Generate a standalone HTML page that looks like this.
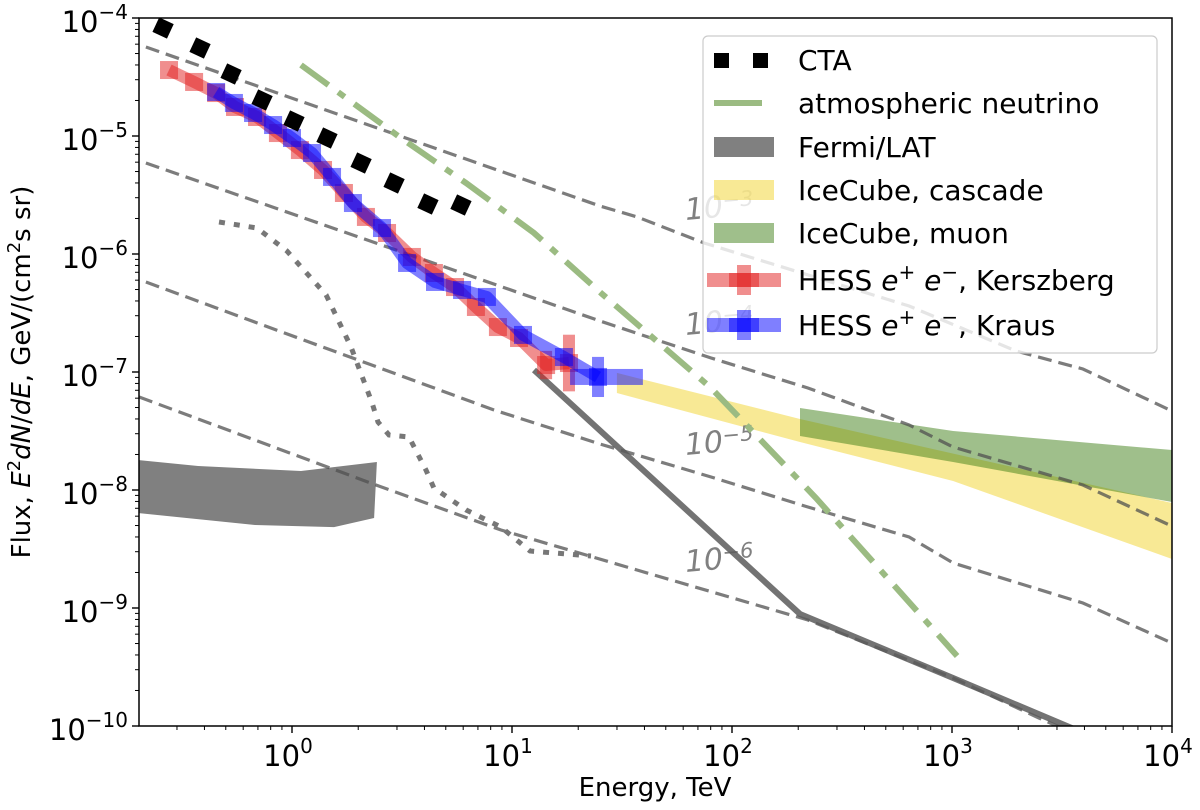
<!DOCTYPE html>
<html><head><meta charset="utf-8"><style>
html,body{margin:0;padding:0;background:#fff;}
svg{display:block;font-family:"DejaVu Sans","Liberation Sans",sans-serif;}
</style></head><body>
<svg id="chart" width="1200" height="810" viewBox="0 0 1200 810">
<defs><clipPath id="plotclip"><rect x="139" y="18" width="1033" height="708"/></clipPath></defs>
<g id="plot" clip-path="url(#plotclip)"></g>
<g id="axes"></g>
<g id="legend"></g>
</svg>
<script>
// ---- data (log10 Energy [TeV], log10 Flux) ----
const ctaLogE = [-0.586,-0.418,-0.277,-0.136,0.009,0.159,0.314,0.464,0.618,0.768];
const ctaLogF = [-4.085,-4.254,-4.475,-4.695,-4.873,-5.017,-5.229,-5.398,-5.576,-5.585];
const nuLogE = [0.041,0.495,0.791,1.1,1.405,1.905,2.382,3.023];
const nuLogF = [-4.398,-5.017,-5.398,-5.822,-6.331,-7.136,-8.068,-9.407];
const fermiLineLogE = [1.1,2.309,3.005,3.673];
const fermiLineLogF = [-6.983,-9.051,-9.593,-10.119];
const fermiBandUpLogE = [-0.699,-0.427,0.041,0.386];
const fermiBandUpLogF = [-7.746,-7.797,-7.839,-7.763];
const fermiBandLoLogE = [-0.699,-0.168,0.191,0.373];
const fermiBandLoLogF = [-8.195,-8.297,-8.314,-8.237];
const cascUpLogE = [1.477,2.309,4.0];
const cascUpLogF = [-7.008,-7.398,-8.110];
const cascLoLogE = [1.477,2.309,3.005,4.0];
const cascLoLogF = [-7.178,-7.593,-7.924,-8.585];
const muonUpLogE = [2.309,3.005,4.0];
const muonUpLogF = [-7.305,-7.5,-7.661];
const muonLoLogE = [2.309,3.005,4.0];
const muonLoLogF = [-7.542,-7.763,-8.102];
const c1LogE = [-0.664,1.4,1.568,1.873,2.805,3.291,3.595,4.009];
const c1LogF = [-4.246,-5.593,-5.686,-5.907,-6.441,-6.822,-6.975,-7.339];
const c2LogE = [-0.664,1.4,1.905,2.345,2.805,3.005,3.595,4.009];
const c2LogF = [-5.229,-6.568,-6.881,-7.136,-7.449,-7.636,-7.958,-8.314];
const c3LogE = [-0.664,0.918,1.4,1.905,2.345,2.805,3.005,3.595,4.009];
const c3LogF = [-6.237,-7.322,-7.610,-7.890,-8.144,-8.398,-8.619,-8.958,-9.305];
const c4LogE = [-0.695,0.382,0.95,1.568,2.345,3.005,3.395,3.673];
const c4LogF = [-7.212,-7.958,-8.339,-8.678,-9.102,-9.593,-9.932,-10.161];
const dotLogE = [-0.332,-0.159,-0.023,0.155,0.268,0.364,0.391,0.441,0.532,0.609,0.645,0.791,0.95,1.082,1.359];
const dotLogF = [-5.729,-5.780,-5.975,-6.347,-6.788,-7.263,-7.424,-7.534,-7.551,-7.831,-7.983,-8.169,-8.314,-8.517,-8.559];
const kerLogE = [-0.559,-0.445,-0.345,-0.259,-0.159,-0.064,0.036,0.141,0.236,0.336,0.432,0.545,0.645,0.741,0.836,0.936,1.032,1.155,1.259];
const kerLogF = [-4.441,-4.542,-4.636,-4.754,-4.839,-4.975,-5.119,-5.288,-5.483,-5.686,-5.822,-6.025,-6.161,-6.280,-6.449,-6.619,-6.712,-6.941,-6.924];
const kerErrF = [0,0,0,0,0,0,0,0,0,0,0,0,0,0,0,0,0,0.12,0.24];
const krLogE = [-0.345,-0.264,-0.177,-0.086,0,0.091,0.182,0.277,0.409,0.523,0.65,0.773,0.886,1.05,1.236,1.391];
const krLogF = [-4.627,-4.720,-4.805,-4.907,-5.017,-5.144,-5.347,-5.568,-5.780,-6.076,-6.237,-6.305,-6.364,-6.686,-6.873,-7.042];
const krErrF = [0,0,0,0,0,0,0,0,0,0,0,0,0,0,0,0.17];
const contourLabels = ["3","4","5","6"];
const contourLabelLogE = [1.79,1.79,1.79,1.79];
const contourLabelLogF = [-5.712,-6.686,-7.703,-8.695];
const xTickExp = [0,1,2,3,4];
const yTickExp = [-4,-5,-6,-7,-8,-9,-10];

const NS="http://www.w3.org/2000/svg";
const X = le => 292 + 220*le;
const Y = lf => 18 + 118*(-4 - lf);
function mk(tag, attrs, parent){const e=document.createElementNS(NS,tag);for(const k in attrs)e.setAttribute(k,attrs[k]);parent.appendChild(e);return e;}
function pts(le,lf){return le.map((v,i)=>X(v).toFixed(1)+","+Y(lf[i]).toFixed(1)).join(" ");}
const plot=document.getElementById('plot'), axes=document.getElementById('axes'), leg=document.getElementById('legend');

let p;
p=mk('polygon',{points:pts(fermiBandUpLogE,fermiBandUpLogF)+" "+pts(fermiBandLoLogE.slice().reverse(),fermiBandLoLogF.slice().reverse()),fill:'#808080'},plot);


p=mk('polygon',{points:pts(cascUpLogE,cascUpLogF)+" "+pts(cascLoLogE.slice().reverse(),cascLoLogF.slice().reverse()),fill:'rgba(242,212,44,0.5)'},plot);


p=mk('polygon',{points:pts(muonUpLogE,muonUpLogF)+" "+pts(muonLoLogE.slice().reverse(),muonLoLogF.slice().reverse()),fill:'rgba(64,128,24,0.5)'},plot);



[[c1LogE,c1LogF],[c2LogE,c2LogF],[c3LogE,c3LogF],[c4LogE,c4LogF]].forEach((c,i)=>{
  const l=mk('polyline',{points:pts(c[0],c[1]),fill:'none',stroke:'rgba(80,80,80,0.75)','stroke-width':3.2,'stroke-dasharray':'14 7'},plot);
  
  
});
contourLabels.forEach((t,i)=>{
  const x=X(contourLabelLogE[i]), y=Y(contourLabelLogF[i]);
  const tx=mk('text',{x:x,y:y,fill:'#808080','font-size':30,'font-style':'italic',transform:`rotate(-5 ${x} ${y})`},plot);
  tx.innerHTML='10<tspan dy="-9" font-size="21">−'+t+'</tspan>';
  
  
});

p=mk('polyline',{points:pts(dotLogE,dotLogF),fill:'none',stroke:'#777','stroke-width':5,'stroke-dasharray':'6 9'},plot);



p=mk('polyline',{points:pts(fermiLineLogE,fermiLineLogF),fill:'none',stroke:'rgba(90,90,90,0.85)','stroke-width':6},plot);



p=mk('polyline',{points:pts(nuLogE,nuLogF),fill:'none',stroke:'#9bbb82','stroke-width':6,'stroke-dasharray':'34 12 8 12'},plot);



function hess(le,lf,err,col,name,lastXErr){
  const g=mk('g',{},plot);
  
  
  mk('polyline',{points:pts(le,lf),fill:'none',stroke:col,'stroke-width':12,'stroke-linejoin':'round'},g);
  le.forEach((v,i)=>{
    const x=X(v),y=Y(lf[i]);
    const r=mk('rect',{x:x-9,y:y-9,width:18,height:18,fill:col},g);
    
    
    if(err[i]>0){mk('rect',{x:x-6,y:Y(lf[i]+err[i]),width:12,height:Y(lf[i]-err[i])-Y(lf[i]+err[i]),fill:col},g);}
  });
  if(lastXErr){const n=le.length-1;mk('rect',{x:X(lastXErr[0]),y:Y(lf[n])-8,width:X(lastXErr[1])-X(lastXErr[0]),height:16,fill:col},g);}
}
hess(kerLogE,kerLogF,kerErrF,'rgba(225,30,30,0.5)','hess-kerszberg',null);
hess(krLogE,krLogF,krErrF,'rgba(0,0,255,0.5)','hess-kraus',[1.264,1.595]);

ctaLogE.forEach((v,i)=>{
  const x=X(v),y=Y(ctaLogF[i]);
  const r=mk('rect',{x:x-8,y:y-8,width:16,height:16,fill:'#000',transform:`rotate(25 ${x} ${y})`},plot);
  
  
});

mk('rect',{x:139,y:18,width:1033,height:708,fill:'none',stroke:'#000','stroke-width':1.5},axes);
for(let d=-1;d<=3;d++){for(let m=1;m<10;m++){const le=d+Math.log10(m);const x=X(le);if(x<139||x>1172.5)continue;
  mk('line',{x1:x,y1:726,x2:x,y2:m===1?733:730,stroke:'#000','stroke-width':m===1?1.4:1},axes);}}
mk('line',{x1:1172,y1:726,x2:1172,y2:733,stroke:'#000','stroke-width':1.4},axes);
for(let d=-10;d<-4;d++){for(let m=1;m<10;m++){const lf=d+Math.log10(m);const y=Y(lf);
  mk('line',{x1:m===1?132:135,y1:y,x2:139,y2:y,stroke:'#000','stroke-width':m===1?1.4:1},axes);}}
mk('line',{x1:132,y1:18,x2:139,y2:18,stroke:'#000','stroke-width':1.4},axes);
xTickExp.forEach(e=>{
  const t=mk('text',{x:X(e)-4,y:766,'font-size':29,'text-anchor':'middle'},axes);
  t.innerHTML='10<tspan dy="-13" font-size="20">'+e+'</tspan>';
  
  
});
yTickExp.forEach(e=>{
  const t=mk('text',{x:128,y:Y(e)+14,'font-size':29,'text-anchor':'end'},axes);
  t.innerHTML='10<tspan dy="-13" font-size="20">−'+(-e)+'</tspan>';
  
  
});
let t=mk('text',{x:655,y:796,'font-size':26,'text-anchor':'middle'},axes);
t.textContent='Energy, TeV';


t=mk('text',{x:0,y:0,'font-size':26,'text-anchor':'middle',transform:'translate(30 372) rotate(-90)'},axes);
t.innerHTML='Flux, <tspan font-style="italic">E</tspan><tspan dy="-10" font-size="18">2</tspan><tspan dy="10" font-style="italic">dN</tspan>/<tspan font-style="italic">dE</tspan>, GeV/(cm<tspan dy="-10" font-size="18">2</tspan><tspan dy="10">s sr)</tspan>';



mk('rect',{x:703,y:36,width:454,height:317,rx:5,fill:'rgba(255,255,255,0.8)',stroke:'#ccc','stroke-width':1.2},leg);
const ly=[60,103,147,190,233,280,325];
const labels=['CTA','atmospheric neutrino','Fermi/LAT','IceCube, cascade','IceCube, muon','HESS <tspan font-style="italic">e</tspan><tspan dy="-11" font-size="20">+</tspan><tspan dy="11" font-style="italic"> e</tspan><tspan dy="-11" font-size="20">−</tspan><tspan dy="11">, Kerszberg</tspan>','HESS <tspan font-style="italic">e</tspan><tspan dy="-11" font-size="20">+</tspan><tspan dy="11" font-style="italic"> e</tspan><tspan dy="-11" font-size="20">−</tspan><tspan dy="11">, Kraus</tspan>'];
const names=['cta','atmospheric-neutrino','fermi-lat','icecube-cascade','icecube-muon','hess-kerszberg','hess-kraus'];
labels.forEach((s,i)=>{
  const g=mk('g',{},leg);
  
  
  const y=ly[i];
  if(i===0){mk('rect',{x:714,y:y-7,width:15,height:15,fill:'#000'},g);mk('rect',{x:753,y:y-7,width:15,height:15,fill:'#000'},g);}
  if(i===1){mk('rect',{x:714,y:y-3,width:48,height:6,fill:'#9bbb82'},g);}
  if(i===2){mk('rect',{x:714,y:y-10,width:60,height:20,fill:'#808080'},g);}
  if(i===3){mk('rect',{x:714,y:y-10,width:60,height:20,fill:'rgba(242,212,44,0.5)'},g);}
  if(i===4){mk('rect',{x:714,y:y-10,width:60,height:20,fill:'rgba(64,128,24,0.5)'},g);}
  if(i>=5){const c=i===5?'rgba(225,30,30,0.5)':'rgba(0,0,255,0.5)';
    mk('rect',{x:707,y:y-7,width:74,height:14,fill:c},g);
    mk('rect',{x:729,y:y-7,width:30,height:14,fill:c},g);
    mk('rect',{x:737,y:y-15,width:14,height:30,fill:c},g);}
  const tx=mk('text',{x:798,y:y+10,'font-size':28},g);
  tx.innerHTML=s;
});
</script>
</body></html>
